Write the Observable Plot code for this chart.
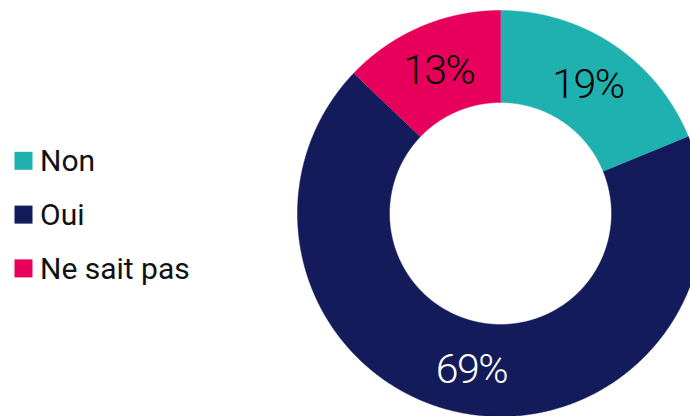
<!DOCTYPE html>
<html>
<head>
<meta charset="utf-8">
<script src="https://cdn.jsdelivr.net/npm/d3@7"></script>
<script src="https://cdn.jsdelivr.net/npm/@observablehq/plot@0.6"></script>
<style>
  html, body { margin: 0; padding: 0; overflow: hidden; background: #fff; }
  #chart svg { display: block; }
  g[font-weight="300"] text { letter-spacing: -1.5px; }
</style>
</head>
<body>
<div id="chart"></div>
<script>
// ---- data ----
const categories = ["Non", "Oui", "Ne sait pas"];
const values = [19, 69, 13];
const labels = ["19%", "69%", "13%"];

// ---- styles ----
const palette = ["#1fb1af", "#131b5b", "#e6005c"];
const labelInk = ["#000000", "#ffffff", "#000000"];

// ---- layout ----
const W = 690, H = 416;
const cx = 500, cy = 213, R = 203, R0 = 111;
const legendX = 23, legendY0 = 160.3, legendStep = 53.8, swatch = 18;

const arcs = d3.pie().sort(null).value(d => d)(values);

const pt = (cat, rad, t) => ({cat, x: cx + rad * Math.sin(t), y: cy - rad * Math.cos(t)});

const slicePts = [];
arcs.forEach((a, i) => {
  const cat = categories[i];
  const n = Math.max(2, Math.ceil((a.endAngle - a.startAngle) / (Math.PI / 720)));
  for (let k = 0; k <= n; k++) slicePts.push(pt(cat, R, a.startAngle + (a.endAngle - a.startAngle) * k / n));
  for (let k = n; k >= 0; k--) slicePts.push(pt(cat, R0, a.startAngle + (a.endAngle - a.startAngle) * k / n));
});

const labelData = arcs.map((a, i) => {
  const m = (a.startAngle + a.endAngle) / 2, rm = (R + R0) / 2;
  return {text: labels[i], ink: labelInk[i], x: cx + rm * Math.sin(m), y: cy - rm * Math.cos(m)};
});

const chart = Plot.plot({
  width: W,
  height: H,
  margin: 0,
  style: {fontFamily: "Roboto, sans-serif", background: "#fff"},
  x: {type: "linear", domain: [0, W], range: [0, W], axis: null},
  y: {type: "linear", domain: [0, H], range: [0, H], axis: null},
  color: {domain: categories, range: palette},
  marks: [
    Plot.line(slicePts, {x: "x", y: "y", z: "cat", fill: "cat", stroke: "cat", strokeWidth: 0.5}),
    ...labelData.map(d => Plot.text([d], {
      x: "x", y: "y", text: "text", fill: d.ink,
      fontSize: 41, fontWeight: 300, dy: 2
    })),
    Plot.dot(categories, {
      x: () => legendX, y: (d, i) => legendY0 + i * legendStep,
      symbol: "square", r: swatch / Math.sqrt(Math.PI), fill: d => d
    }),
    Plot.text(categories, {
      x: () => legendX + 16.5, y: (d, i) => legendY0 + i * legendStep + 1,
      text: d => d, textAnchor: "start", fontSize: 30, fill: "#111111"
    })
  ]
});
document.getElementById("chart").appendChild(chart);
</script>
</body>
</html>
